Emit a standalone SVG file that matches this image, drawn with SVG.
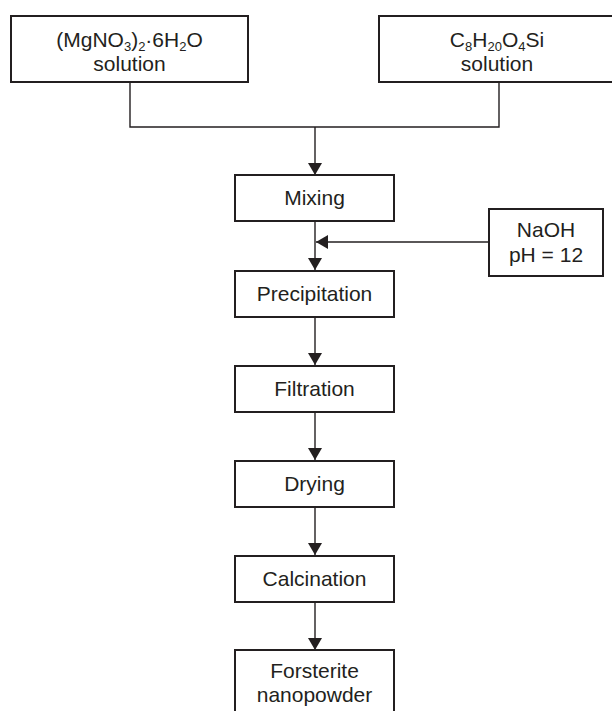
<svg xmlns="http://www.w3.org/2000/svg" width="612" height="711" viewBox="0 0 612 711">
<defs>
<style>
.box{fill:#fff;stroke:#231f20;stroke-width:2}
.ln{fill:none;stroke:#231f20;stroke-width:1.4}
.t{font-family:"Liberation Sans",Arial,Helvetica,sans-serif;font-size:21px;fill:#231f20;text-anchor:middle}
.s{font-size:13px}
</style>
<marker id="ah" markerWidth="12" markerHeight="14" viewBox="0 0 12 14" refX="12" refY="7" orient="auto" markerUnits="userSpaceOnUse">
<path d="M0,0 L12,7 L0,14 Z" fill="#231f20"/>
</marker>
</defs>
<rect width="612" height="711" fill="#fff"/>
<g id="connectors">
<polyline class="ln" points="130,82 130,127 499,127 499,82"/>
<line class="ln" x1="315" y1="127" x2="315" y2="175" marker-end="url(#ah)"/>
<line class="ln" x1="315" y1="221" x2="315" y2="270" marker-end="url(#ah)"/>
<line class="ln" x1="489" y1="242" x2="316" y2="242" marker-end="url(#ah)"/>
<line class="ln" x1="315" y1="317" x2="315" y2="365" marker-end="url(#ah)"/>
<line class="ln" x1="315" y1="412" x2="315" y2="460" marker-end="url(#ah)"/>
<line class="ln" x1="315" y1="507" x2="315" y2="555" marker-end="url(#ah)"/>
<line class="ln" x1="315" y1="602" x2="315" y2="650" marker-end="url(#ah)"/>
</g>
<g id="mgno3">
<rect class="box" x="11" y="16" width="237" height="66"/>
<text class="t" x="129.5" y="47">(MgNO<tspan class="s" dy="4">3</tspan><tspan dy="-4">)</tspan><tspan class="s" dy="4">2</tspan><tspan dy="-4">·6H</tspan><tspan class="s" dy="4">2</tspan><tspan dy="-4">O</tspan></text>
<text class="t" x="129.5" y="71">solution</text>
</g>
<g id="teos">
<rect class="box" x="379" y="16" width="237" height="66"/>
<text class="t" x="497" y="47">C<tspan class="s" dy="4">8</tspan><tspan dy="-4">H</tspan><tspan class="s" dy="4">20</tspan><tspan dy="-4">O</tspan><tspan class="s" dy="4">4</tspan><tspan dy="-4">Si</tspan></text>
<text class="t" x="497" y="71">solution</text>
</g>
<g id="mixing">
<rect class="box" x="235" y="175" width="159" height="46"/>
<text class="t" x="314.5" y="205">Mixing</text>
</g>
<g id="naoh">
<rect class="box" x="489" y="209" width="114" height="67"/>
<text class="t" x="546" y="237">NaOH</text>
<text class="t" x="546" y="262">pH = 12</text>
</g>
<g id="precipitation">
<rect class="box" x="235" y="271" width="159" height="46"/>
<text class="t" x="314.5" y="301">Precipitation</text>
</g>
<g id="filtration">
<rect class="box" x="235" y="366" width="159" height="46"/>
<text class="t" x="314.5" y="396">Filtration</text>
</g>
<g id="drying">
<rect class="box" x="235" y="461" width="159" height="46"/>
<text class="t" x="314.5" y="491">Drying</text>
</g>
<g id="calcination">
<rect class="box" x="235" y="556" width="159" height="46"/>
<text class="t" x="314.5" y="586">Calcination</text>
</g>
<g id="forsterite">
<rect class="box" x="235" y="650" width="159" height="66"/>
<text class="t" x="314.5" y="678">Forsterite</text>
<text class="t" x="314.5" y="702">nanopowder</text>
</g>
</svg>
